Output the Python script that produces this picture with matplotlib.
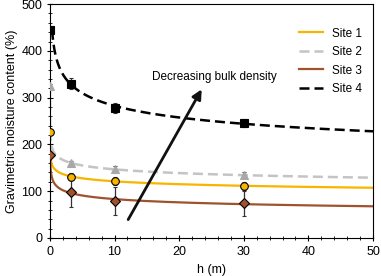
import numpy as np
import matplotlib
matplotlib.use("Agg")
import matplotlib.pyplot as plt
from matplotlib.ticker import MultipleLocator

plt.rcParams['font.family'] = ['Liberation Sans', 'DejaVu Sans']

# measured points (h in m, moisture %)
h = [0, 3.3, 10, 30]
sites = ["Site 1", "Site 2", "Site 3", "Site 4"]
site1 = [227, 131, 122, 111]
site2 = [325, 160, 147, 134]
site3 = [177, 98, 79, 74]
site4 = [445, 330, 278, 246]
err1 = [5, 7, 8, 8]
err2 = [4, 5, 6, 6]
err3 = [5, 32, 29, 27]
err4 = [6, 12, 10, 8]

values = [site1, site2, site3, site4]
errors = [err1, err2, err3, err4]
colors = ["#F7B500", "#C4C4C4", "#A0522D", "#000000"]
styles = ["-", "--", "-", "--"]
markers = ["o", "^", "D", "s"]
msizes = [5.5, 6, 5, 6]
mfc = ["#F7B500", "#A8A8A8", "#A0522D", "#000000"]
mec = ["#000000", "#A8A8A8", "#000000", "#000000"]

fig, ax = plt.subplots(figsize=(3.81, 2.76), dpi=100)
fig.subplots_adjust(left=0.131, right=0.979, bottom=0.138, top=0.985)

# power-law fit y = a * h^b on h > 0, drawn from where it meets the h = 0 value
for name, y, e, col, ls, m, ms, fc, ec in zip(sites, values, errors, colors, styles,
                                               markers, msizes, mfc, mec):
    hx = np.array(h[1:], dtype=float)
    b, loga = np.polyfit(np.log(hx), np.log(y[1:]), 1)
    x0 = np.exp((np.log(y[0]) - loga) / b)
    xs = np.geomspace(x0, 50, 400)
    ax.plot(xs, np.exp(loga) * xs ** b, color=col, lw=1.6 if ls == "-" else 1.8,
            dashes=(4, 2) if ls == "--" else (None, None), label=name, zorder=2)
    ax.errorbar(h, y, yerr=e, fmt=m, ms=ms, mfc=fc, mec=ec, mew=0.8,
                ecolor="#333333", elinewidth=0.9, capsize=1.5, zorder=3)

ax.annotate("", xy=(23.7, 323), xytext=(11.9, 34),
            arrowprops=dict(arrowstyle="-|>", color="#111111", lw=2, mutation_scale=14))
ax.text(15.8, 345, "Decreasing bulk density", fontsize=8.5, va="center", ha="left")

ax.set_xlim(0, 50)
ax.set_ylim(0, 500)
ax.xaxis.set_major_locator(MultipleLocator(10))
ax.xaxis.set_minor_locator(MultipleLocator(2))
ax.yaxis.set_major_locator(MultipleLocator(100))
ax.yaxis.set_minor_locator(MultipleLocator(20))
ax.tick_params(which="both", direction="inout", labelsize=9)
ax.tick_params(which="major", length=5, pad=3)
ax.tick_params(which="minor", length=3)
ax.set_xlabel("h (m)", fontsize=9, labelpad=5)
ax.set_ylabel("Gravimetric moisture content (%)", fontsize=9, labelpad=2)

ax.legend(loc="upper right", frameon=False, fontsize=8.5, handlelength=2.0,
          labelspacing=0.55, bbox_to_anchor=(1.0, 0.945))

plt.savefig("out.png", dpi=100)
